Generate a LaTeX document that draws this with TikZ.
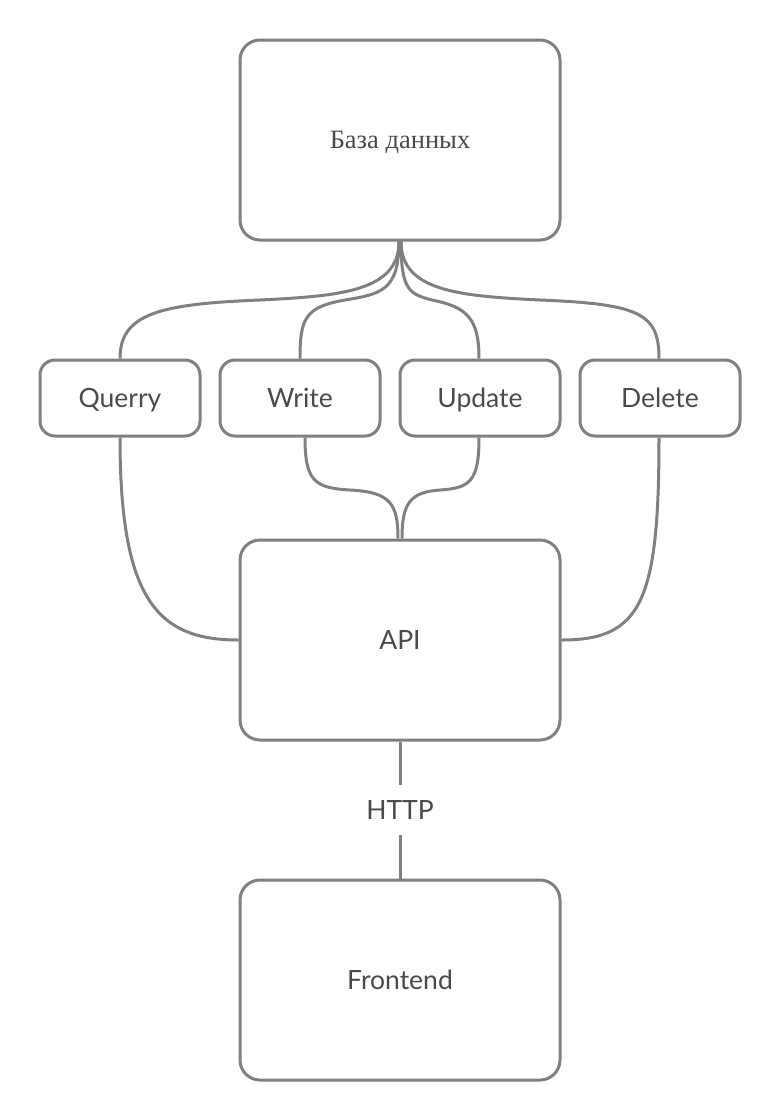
\documentclass[tikz,border=0pt]{standalone}
\usepackage{fontspec}
\setmainfont{Lato}
\newfontfamily\serifrus{Liberation Serif}
\definecolor{edge}{HTML}{808080}
\definecolor{ink}{HTML}{4A4A4A}
\begin{document}
\begin{tikzpicture}[x=1pt,y=-1pt,
  lbl/.style={text=ink,font=\fontsize{26.5}{30}\selectfont,text height=19pt,text depth=0pt},
  bigbox/.style={lbl,draw=edge,line width=3pt,rounded corners=20pt,minimum width=320pt,minimum height=200pt,inner sep=0pt},
  smallbox/.style={lbl,draw=edge,line width=3pt,rounded corners=15pt,minimum width=160pt,minimum height=76pt,inner sep=0pt},
  conn/.style={draw=edge,line width=3pt}]
\useasboundingbox (0,0) rectangle (780,1120);
\node[bigbox,font=\serifrus\fontsize{26.5}{30}\selectfont,text height=17.5pt] (db) at (400,140) {База данных};
\node[smallbox] (q) at (120,398) {Querry};
\node[smallbox] (w) at (300,398) {Write};
\node[smallbox] (u) at (480,398) {Update};
\node[smallbox] (d) at (660,398) {Delete};
\node[bigbox] (api) at (400,640) {API};
\node[lbl,minimum height=50pt,inner sep=0pt] (http) at (400,810) {HTTP};
\node[bigbox] (fe) at (400,980) {Frontend};
% midpoints of curved connectors
\coordinate (mq) at (260,300);
\coordinate (mw) at (345,300);
\coordinate (mu) at (432,300);
\coordinate (md) at (540,300);
\coordinate (bw) at (350,490);
\coordinate (bu) at (440,490);
% top connectors
\draw[conn] ([xshift=-1pt]db.south) .. controls +(0,50) and +(80,-4) .. (mq) .. controls +(-100,4) and +(0,-45) .. (q.north);
\draw[conn] ([xshift=-1pt]db.south) .. controls +(0,50) and +(35,-6) .. (mw) .. controls +(-40,7) and +(0,-40) .. (w.north);
\draw[conn] ([xshift=1pt]db.south) .. controls +(0,50) and +(-22,-6) .. (mu) .. controls +(35,7) and +(0,-40) .. ([xshift=-1pt]u.north);
\draw[conn] ([xshift=1pt]db.south) .. controls +(0,50) and +(-80,-4) .. (md) .. controls +(100,4) and +(0,-45) .. ([xshift=-1pt]d.north);
% bottom connectors
\draw[conn] ([xshift=5pt]w.south) .. controls +(0,44) and +(-35,-2) .. (bw) .. controls +(40,2) and +(0,-35) .. ([xshift=-2pt]api.north);
\draw[conn] ([xshift=-1pt]u.south) .. controls +(0,44) and +(30,-2) .. (bu) .. controls +(-30,2) and +(0,-35) .. ([xshift=2pt]api.north);
\draw[conn] (q.south) .. controls +(0,164) and +(-80,0) .. (api.west);
\draw[conn] ([xshift=-1pt]d.south) .. controls +(0,164) and +(80,0) .. (api.east);
% HTTP link
\draw[conn] (api.south) -- (http.north);
\draw[conn] (http.south) -- (fe.north);
\end{tikzpicture}
\end{document}
